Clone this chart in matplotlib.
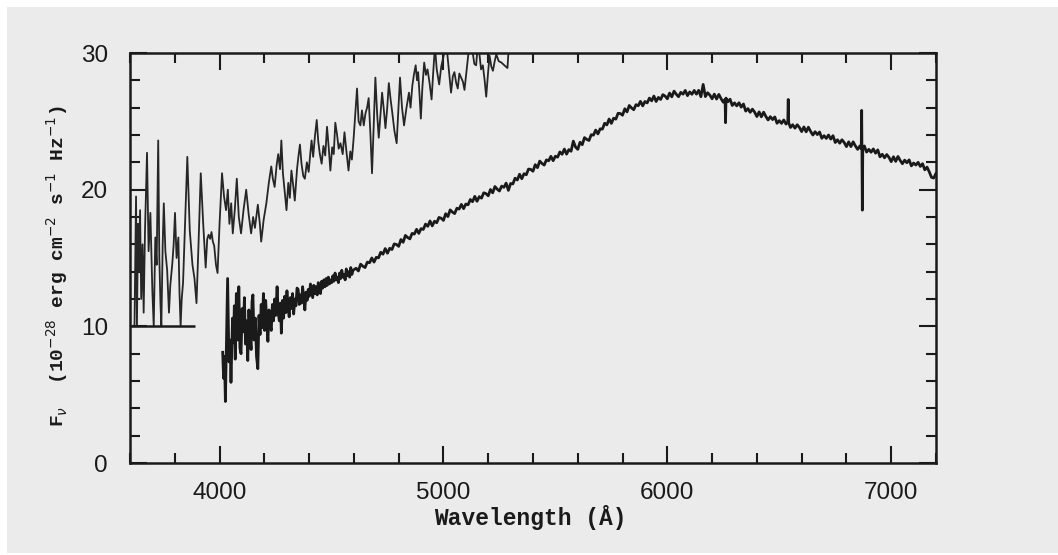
import matplotlib.pyplot as plt
from matplotlib.patches import Rectangle
from matplotlib.ticker import MultipleLocator

# upper (noisy, offset) spectrum: wavelength [A], flux
upper_wave = [
    3620, 3627, 3631, 3636, 3639, 3645, 3650, 3656, 3661, 3667, 3676, 3683,
    3691, 3700, 3706, 3713, 3719, 3726, 3731, 3736, 3740, 3746, 3751, 3758,
    3766, 3770, 3774, 3780, 3789, 3795, 3801, 3808, 3816, 3821, 3826, 3831,
    3837, 3847, 3856, 3867, 3879, 3888, 3897, 3906, 3916, 3927, 3938, 3945,
    3951, 3958, 3964, 3970, 3976, 3984, 3991, 4000, 4011, 4020, 4029, 4037,
    4044, 4052, 4059, 4068, 4077, 4086, 4096, 4107, 4119, 4130, 4141, 4150,
    4158, 4171, 4180, 4186, 4197, 4209, 4220, 4231, 4238, 4246, 4255, 4262,
    4270, 4276, 4283, 4290, 4299, 4307, 4314, 4321, 4329, 4336, 4346, 4352,
    4359, 4366, 4374, 4381, 4390, 4398, 4405, 4411, 4418, 4426, 4434, 4441,
    4448, 4456, 4464, 4472, 4480, 4488, 4495, 4503, 4510, 4517, 4525, 4532,
    4540, 4550, 4558, 4566, 4576, 4584, 4591, 4599, 4606, 4614, 4621, 4629,
    4636, 4644, 4652, 4659, 4666, 4674, 4681, 4689, 4696, 4704, 4711, 4719,
    4726, 4734, 4741, 4749, 4756, 4764, 4771, 4781, 4791, 4799, 4806, 4815,
    4824, 4835, 4846, 4853, 4861, 4868, 4876, 4882, 4887, 4893, 4899, 4906,
    4914, 4922, 4929, 4938, 4947, 4954, 4962, 4970, 4981, 4990, 5001, 5011,
    5020, 5027, 5034, 5042, 5049, 5057, 5064, 5071, 5079, 5087, 5094, 5102,
    5109, 5117, 5124, 5131, 5138, 5146, 5153, 5161, 5168, 5176, 5184, 5191,
    5199, 5206, 5214, 5221, 5229, 5236, 5247, 5259, 5272, 5286, 5292,
]
upper_flux = [
    10.0, 19.5, 10.0, 17.5, 14.0, 18.5, 12.0, 16.0, 11.0, 17.0, 22.7, 15.5,
    18.3, 12.5, 10.0, 16.5, 14.5, 23.6, 15.0, 11.7, 10.0, 16.0, 19.0, 15.5,
    14.1, 12.5, 11.0, 13.0, 14.6, 16.0, 18.3, 15.0, 16.5, 12.5, 10.0, 12.0,
    13.2, 18.0, 22.4, 17.0, 14.5, 13.5, 11.7, 16.0, 21.2, 17.5, 14.3, 16.4,
    16.7, 16.4, 16.9, 16.2, 15.9, 14.5, 13.9, 17.5, 21.2, 19.5, 18.5, 20.0,
    17.5, 19.0, 16.8, 18.5, 20.8, 18.0, 16.8, 18.5, 20.0, 18.2, 16.8, 18.0,
    17.2, 18.9, 17.5, 16.2, 17.8, 19.0, 20.5, 21.7, 20.8, 20.2, 21.8, 22.6,
    21.5, 23.6, 21.2, 20.0, 18.5, 20.5, 19.4, 21.4, 20.3, 19.2, 21.5, 22.4,
    23.3, 21.9, 21.0, 20.8, 22.0, 21.3, 22.6, 23.6, 22.4, 23.9, 25.1, 23.5,
    22.6, 21.9, 23.2, 22.5, 24.6, 23.0, 21.4, 23.1, 22.6, 24.9, 24.0, 23.0,
    23.4, 22.6, 24.2, 22.9, 21.4, 22.8, 22.2, 23.8, 25.5, 27.4, 25.0, 24.7,
    25.8, 24.7, 25.6, 26.0, 26.7, 24.0, 21.2, 25.0, 28.2, 25.5, 23.8, 25.6,
    27.1, 25.8, 24.5, 26.0, 27.8, 26.6, 25.7, 24.3, 23.4, 26.0, 28.2, 26.0,
    24.7, 26.0, 27.1, 26.0, 27.6, 28.4, 29.1, 28.0, 28.6, 27.0, 25.2, 27.5,
    29.3, 28.4, 28.8, 27.8, 26.6, 28.5, 30.5, 28.8, 27.7, 29.0, 29.8, 31.0,
    29.5, 28.3, 27.1, 28.3, 28.6, 27.8, 27.4, 28.5, 28.2, 27.9, 27.3, 28.5,
    29.6, 30.8, 31.0, 30.0, 29.2, 29.1, 30.5, 29.9, 28.8, 29.1, 28.0, 26.8,
    28.5, 29.8, 29.0, 28.7, 29.4, 29.9, 29.4, 29.3, 29.1, 28.9, 30.5,
]
# the upper trace is cut off at this level at the blue end
upper_floor = 10.0
upper_floor_end = 3892

# lower spectrum: wavelength [A], flux
lower_wave = [
    4014, 4018, 4022, 4026, 4031, 4036, 4042, 4047, 4051, 4058, 4062, 4066,
    4070, 4075, 4081, 4086, 4091, 4096, 4101, 4106, 4111, 4116, 4121, 4126,
    4131, 4136, 4141, 4145, 4149, 4154, 4160, 4165, 4171, 4176, 4181, 4186,
    4191, 4196, 4201, 4206, 4211, 4216, 4221, 4226, 4231, 4236, 4241, 4246,
    4251, 4257, 4262, 4267, 4272, 4276, 4281, 4286, 4291, 4296, 4301, 4306,
    4311, 4316, 4321, 4326, 4331, 4336, 4341, 4346, 4351, 4356, 4361, 4366,
    4371, 4376, 4381, 4386, 4391, 4396, 4401, 4406, 4411, 4416, 4421, 4426,
    4431, 4436, 4441, 4446, 4451, 4456, 4461, 4466, 4471, 4476, 4481, 4486,
    4491, 4496, 4501, 4506, 4511, 4516, 4521, 4526, 4531, 4536, 4541, 4546,
    4551, 4556, 4561, 4566, 4571, 4576, 4581, 4586, 4591, 4596,
    4610, 4620, 4630, 4640, 4650, 4660, 4670, 4680, 4690, 4700,
    4710, 4720, 4730, 4740, 4750, 4760, 4770, 4780, 4790, 4800,
    4810, 4820, 4830, 4840, 4850, 4860, 4870, 4880, 4890, 4900,
    4910, 4920, 4930, 4940, 4950, 4960, 4970, 4980, 4990, 5000,
    5010, 5020, 5030, 5040, 5050, 5060, 5070, 5080, 5090, 5100,
    5110, 5120, 5130, 5140, 5150, 5160, 5170, 5180, 5190, 5200,
    5210, 5220, 5230, 5240, 5250, 5260, 5270, 5280, 5290, 5300,
    5310, 5320, 5330, 5340, 5350, 5360, 5370, 5380, 5390, 5400,
    5410, 5420, 5430, 5440, 5450, 5460, 5470, 5480, 5490, 5500,
    5510, 5520, 5530, 5540, 5550, 5560, 5570, 5580, 5590, 5600,
    5610, 5620, 5630, 5640, 5650, 5660, 5670, 5680, 5690, 5700,
    5710, 5720, 5730, 5740, 5750, 5760, 5770, 5780, 5790, 5800,
    5810, 5820, 5830, 5840, 5850, 5860, 5870, 5880, 5890, 5900,
    5910, 5920, 5930, 5940, 5950, 5960, 5970, 5980, 5990, 6000,
    6010, 6020, 6030, 6040, 6050, 6060, 6070, 6080, 6090, 6100,
    6110, 6120, 6130, 6140, 6150, 6160, 6170, 6180, 6190, 6200,
    6210, 6220, 6230, 6240, 6250, 6258, 6260, 6262, 6270, 6280, 6290, 6300,
    6310, 6320, 6330, 6340, 6350, 6360, 6370, 6380, 6390, 6400,
    6410, 6420, 6430, 6440, 6450, 6460, 6470, 6480, 6490, 6500,
    6510, 6520, 6530, 6538, 6540, 6542, 6550, 6560, 6570, 6580, 6590, 6600,
    6610, 6620, 6630, 6640, 6650, 6660, 6670, 6680, 6690, 6700,
    6710, 6720, 6730, 6740, 6750, 6760, 6770, 6780, 6790, 6800,
    6810, 6820, 6830, 6840, 6850, 6860, 6866, 6868, 6871, 6873, 6880, 6890,
    6900, 6910, 6920, 6930, 6940, 6950, 6960, 6970, 6980, 6990, 7000,
    7010, 7020, 7030, 7040, 7050, 7060, 7070, 7080, 7090, 7100,
    7110, 7120, 7130, 7140, 7150, 7160, 7170, 7180, 7190, 7200, 7210,
]
lower_flux = [
    8.1, 6.2, 7.8, 4.5, 9.2, 13.5, 7.4, 9.0, 5.9, 10.6, 8.8, 11.5,
    7.6, 12.4, 9.0, 12.9, 8.4, 8.0, 11.3, 9.6, 12.1, 8.7, 10.4, 7.5,
    11.2, 9.3, 8.3, 11.8, 12.3, 9.0, 10.6, 7.8, 6.9, 10.8, 9.4, 11.6,
    9.9, 12.4, 9.7, 11.9, 10.3, 8.9, 11.2, 10.1, 9.7, 11.6, 10.4, 12.0,
    10.8, 12.9, 11.0, 10.4, 11.7, 9.5, 11.9, 10.6, 12.2, 11.0, 12.6, 11.4,
    10.7, 12.1, 11.3, 12.4, 10.9, 12.0, 11.5, 12.8, 12.7, 11.6, 12.3, 11.7,
    12.9, 12.1, 11.2, 12.5, 11.9, 12.7, 12.2, 13.1, 12.6, 12.1, 13.0, 12.4,
    12.9, 12.3, 13.2, 12.6, 12.4, 13.3, 12.8, 13.4, 12.9, 13.5, 13.0, 13.6,
    13.1, 13.4, 13.2, 13.7, 13.3, 13.9, 13.4, 13.6, 13.2, 13.9, 13.5, 14.1,
    13.6, 13.8, 13.4, 14.2, 13.7, 14.0, 13.6, 14.3, 13.8, 14.1,
    14.25, 14.05, 14.55, 14.4, 14.3, 14.7, 14.65, 15.0, 14.7, 15.05,
    15.01, 15.42, 15.28, 15.69, 15.35, 15.71, 15.62, 16.03, 15.99, 15.85,
    16.35, 16.15, 16.65, 16.5, 16.4, 16.8, 16.75, 17.1, 16.8, 17.15,
    17.09, 17.48, 17.32, 17.71, 17.35, 17.69, 17.58, 17.97, 17.91, 17.75,
    18.24, 18.03, 18.52, 18.36, 18.25, 18.64, 18.58, 18.92, 18.61, 18.95,
    18.89, 19.28, 19.12, 19.51, 19.15, 19.49, 19.38, 19.77, 19.71, 19.55,
    20.01, 19.77, 20.23, 20.04, 19.9, 20.26, 20.17, 20.48, 19.95, 20.45,
    20.42, 20.84, 20.71, 21.13, 20.8, 21.17, 21.09, 21.51, 21.48, 21.35,
    21.83, 21.61, 22.09, 21.92, 21.8, 22.18, 22.11, 22.44, 22.12, 22.45,
    22.38, 22.76, 22.59, 22.97, 22.6, 22.93, 22.81, 23.55, 23.12, 22.95,
    23.47, 23.29, 23.81, 23.68, 23.6, 24.02, 23.99, 24.36, 24.08, 24.45,
    24.43, 24.86, 24.74, 25.17, 24.85, 25.23, 25.16, 25.59, 25.57, 25.45,
    25.92, 25.69, 26.16, 25.98, 25.85, 26.22, 26.14, 26.46, 26.13, 26.45,
    26.35, 26.7, 26.5, 26.85, 26.45, 26.75, 26.6, 26.95, 26.85, 26.65,
    27.07, 26.79, 27.21, 26.98, 26.8, 27.12, 26.99, 27.26, 26.88, 27.15,
    26.98, 27.26, 26.99, 27.27, 26.8, 27.7, 26.81, 27.09, 26.92, 26.65,
    26.99, 26.63, 26.97, 26.66, 26.4, 26.6, 24.9, 26.7, 26.43, 26.62, 26.16, 26.35,
    26.13, 26.36, 26.04, 26.27, 25.75, 25.93, 25.66, 25.89, 25.67, 25.35,
    25.69, 25.33, 25.67, 25.36, 25.1, 25.34, 25.13, 25.32, 24.86, 25.05,
    24.85, 25.1, 24.8, 24.95, 26.6, 24.9, 24.55, 24.75, 24.5, 24.75, 24.55, 24.25,
    24.59, 24.23, 24.57, 24.26, 24.0, 24.24, 24.03, 24.22, 23.76, 23.95,
    23.75, 24.0, 23.7, 23.95, 23.45, 23.65, 23.4, 23.65, 23.45, 23.15,
    23.5, 23.15, 23.5, 23.2, 22.95, 23.2, 23.0, 25.8, 18.5, 23.1, 23.2, 22.75,
    22.95, 22.74, 22.98, 22.67, 22.91, 22.4, 22.59, 22.33, 22.57, 22.36, 22.05,
    22.41, 22.07, 22.43, 22.14, 21.9, 22.16, 21.97, 22.18, 21.74, 21.95,
    21.8, 22.0, 21.7, 21.9, 21.45, 21.65, 21.3, 20.9, 20.85, 21.2, 21.1,
]

x_major = [4000, 5000, 6000, 7000]
y_major = [0, 10, 20, 30]

paper = '#ebebeb'
ink = '#1a1a1a'

fig = plt.figure(figsize=(10.58, 5.55), dpi=100)
fig.patch.set_facecolor('white')
fig.patches.append(Rectangle((7 / 1058, 2 / 555), 1, 546 / 555,
                             transform=fig.transFigure, facecolor=paper,
                             edgecolor='none', zorder=-10))

ax = fig.add_axes([130 / 1058, 92 / 555, 806 / 1058, 410 / 555])
ax.set_facecolor('none')

ax.plot(upper_wave, upper_flux, color='#262626', linewidth=1.3)
ax.hlines(upper_floor, 3600, upper_floor_end, color=ink, linewidth=1.8)
ax.plot(lower_wave, lower_flux, color=ink, linewidth=2.0)

ax.set_xlim(3600, 7200)
ax.set_ylim(0, 30)
ax.set_xticks(x_major)
ax.set_yticks(y_major)
ax.xaxis.set_minor_locator(MultipleLocator(200))
ax.yaxis.set_minor_locator(MultipleLocator(2))

ax.tick_params(which='both', direction='in', top=True, right=True,
               color=ink, width=1.5)
ax.tick_params(which='major', length=12, labelsize=17.5)
ax.tick_params(which='minor', length=7)
ax.tick_params(axis='x', which='major', pad=14)
ax.tick_params(axis='y', which='major', pad=16)
for lab in ax.get_xticklabels() + ax.get_yticklabels():
    lab.set_fontfamily('Liberation Sans')
    lab.set_color(ink)
for sp in ax.spines.values():
    sp.set_linewidth(1.8)
    sp.set_color(ink)

plt.rcParams['mathtext.fontset'] = 'custom'
plt.rcParams['mathtext.rm'] = 'Liberation Mono:bold'
plt.rcParams['mathtext.it'] = 'Liberation Mono:bold'

ax.set_xlabel('Wavelength (Å)', fontfamily='Liberation Mono',
              fontweight='bold', fontsize=16.5, color=ink)
ax.xaxis.set_label_coords(0.497, -0.103)
ax.set_ylabel(r'F$_\nu$  (10$^{-28}$ erg cm$^{-2}$ s$^{-1}$ Hz$^{-1}$)',
              fontfamily='Liberation Mono', fontweight='bold', fontsize=14,
              color=ink)
ax.yaxis.set_label_coords(-0.074, 0.48)

fig.savefig('out.png', dpi=100)
